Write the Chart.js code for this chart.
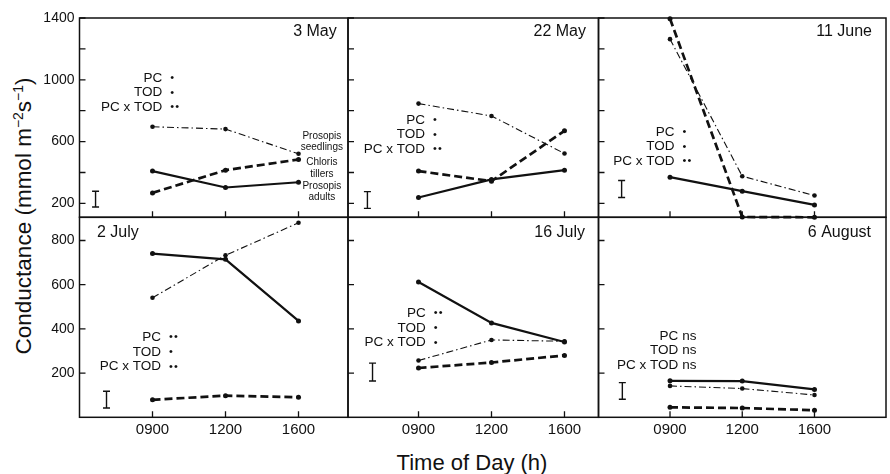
<!DOCTYPE html>
<html><head><meta charset="utf-8">
<script src="https://cdn.jsdelivr.net/npm/chart.js@4.4.1/dist/chart.umd.min.js"></script>
<style>
html,body{margin:0;padding:0;background:#fff;}
#wrap{position:relative;width:890px;height:474px;overflow:hidden;font-family:"Liberation Sans",Arial,sans-serif;color:#111;}
canvas{position:absolute;left:0;top:0;}
#ytitle{position:absolute;left:24px;top:216px;transform:translate(-50%,-50%) rotate(-90deg);white-space:nowrap;font-size:22.5px;}
#xtitle{position:absolute;left:472px;top:463px;transform:translate(-50%,-50%);font-size:22px;white-space:nowrap;}
sup{font-size:0.62em;vertical-align:0.6em;line-height:0;}
</style></head>
<body><div id="wrap">
<div id="ytitle">Conductance (mmol m<sup>−2</sup>s<sup>−1</sup>)</div>
<div id="xtitle">Time of Day (h)</div>
</div>
<script>
// ---------- data ----------
const timeLabels = ['0900', '1200', '1600'];
const panelTitles = ['3 May', '22 May', '11 June', '2 July', '16 July', '6 August'];
const seedlings = [[696, 681, 521], [846, 766, 523], [1263, 376, 251], [541, 733, 880], [257, 350, 344], [142, 130, 101]];
const chloris   = [[268, 415, 484], [409, 344, 670], [1395, 112, 110], [79, 98, 91], [223, 248, 280], [45, 42, 32]];
const adults    = [[409, 303, 337], [238, 355, 415], [370, 279, 190], [741, 715, 436], [612, 427, 341], [165, 164, 126]];
const lsdLow  = [177, 168, 238, 42, 164, 82];
const lsdHigh = [279, 276, 348, 118, 245, 157];
const statNames = ['PC', 'TOD', 'PC x TOD'];
const sigPC     = ['*', '*', '*', '**', '**', 'ns'];
const sigTOD    = ['*', '*', '*', '*', '*', 'ns'];
const sigPCxTOD = ['**', '**', '**', '**', '*', 'ns'];
const yTicksTop = [200, 400, 600, 800, 1000, 1200, 1400];
const yLabelsTop = ['200', '', '600', '', '1000', '', '1400'];
const yTicksBottom = [200, 400, 600, 800];
const yLabelsBottom = ['200', '400', '600', '800'];
const speciesLabels = [['Prosopis', 'seedlings'], ['Chloris', 'tillers'], ['Prosopis', 'adults']];

// ---------- layout (positions / styles) ----------
const FONT = '"Liberation Sans", Arial, sans-serif';
Chart.defaults.font.family = FONT;
Chart.defaults.color = '#111';
const cols = [
  {l: 79.5, r: 348, min: -1.0, max: 2.678},
  {l: 348, r: 598.5, min: -0.966, max: 2.466},
  {l: 598.5, r: 888, min: -0.99, max: 2.99}
];
const rows = [
  {t: 18, b: 217.3, min: 110, max: 1400, ticks: yTicksTop, labels: yLabelsTop},
  {t: 217.3, b: 417.3, min: 0, max: 905, ticks: yTicksBottom, labels: yLabelsBottom}
];
const lsdX = [-0.78, -0.70, -0.67, -0.63, -0.63, -0.66];
const statAnchor = [{x: 0.134, y: 1013}, {x: 0.089, y: 741}, {x: 0.062, y: 663}, {x: 0.116, y: 362}, {x: 0.099, y: 471}, {x: 0.113, y: 368}];
const titlePos = [{a: 'right', dx: -11.3, dy: 14}, {a: 'right', dx: -12.5, dy: 14}, {a: 'right', dx: -14, dy: 14},
                  {a: 'left', dx: 17.5, dy: 15}, {a: 'right', dx: -13.5, dy: 15.5}, {a: 'right', dx: -15, dy: 15.5}];
const speciesAnchor = {x: 2.32, ys: [635, 465, 313]};

const decor = {
  id: 'decor',
  afterDraw(chart, args, o) {
    const ctx = chart.ctx, a = chart.chartArea, xs = chart.scales.x, ys = chart.scales.y;
    const p = o.panel, row = rows[Math.floor(p / 3)];
    ctx.save();
    ctx.strokeStyle = '#111'; ctx.fillStyle = '#111';
    // frame
    ctx.lineWidth = 1.5;
    ctx.strokeRect(a.left, a.top, a.right - a.left, a.bottom - a.top);
    // inward ticks
    ctx.lineWidth = 1.3;
    ctx.beginPath();
    row.ticks.forEach(v => { const y = ys.getPixelForValue(v); ctx.moveTo(a.left, y); ctx.lineTo(a.left + 6, y); });
    timeLabels.forEach((_, j) => { const x = xs.getPixelForValue(j); ctx.moveTo(x, a.bottom); ctx.lineTo(x, a.bottom - 6); });
    ctx.stroke();
    // LSD bar
    const bx = xs.getPixelForValue(lsdX[p]);
    const y1 = ys.getPixelForValue(lsdLow[p]), y2 = ys.getPixelForValue(lsdHigh[p]);
    ctx.lineWidth = 1.4;
    ctx.beginPath();
    ctx.moveTo(bx, y1); ctx.lineTo(bx, y2);
    ctx.moveTo(bx - 3.5, y1); ctx.lineTo(bx + 3.5, y1);
    ctx.moveTo(bx - 3.5, y2); ctx.lineTo(bx + 3.5, y2);
    ctx.stroke();
    // stats
    const sx = xs.getPixelForValue(statAnchor[p].x), sy = ys.getPixelForValue(statAnchor[p].y);
    const sigs = [sigPC[p], sigTOD[p], sigPCxTOD[p]];
    ctx.font = '13.5px ' + FONT;
    ctx.textBaseline = 'middle';
    statNames.forEach((n, k) => {
      const y = sy + k * 14.7;
      ctx.textAlign = 'right';
      ctx.fillText(n, sx, y);
      const s = sigs[k];
      if (s === 'ns') { ctx.textAlign = 'left'; ctx.fillText('ns', sx + 4, y); }
      else {
        ctx.textAlign = 'center';
        ctx.font = '11px ' + FONT;
        for (let d = 0; d < s.length; d++) ctx.fillText('•', sx + 10 + d * 5, y);
        ctx.font = '13.5px ' + FONT;
      }
    });
    // panel title
    const tp = titlePos[p];
    ctx.font = '16px ' + FONT;
    ctx.textAlign = tp.a;
    ctx.fillText(panelTitles[p], (tp.a === 'right' ? a.right : a.left) + tp.dx, a.top + tp.dy);
    // species labels
    if (p === 0) {
      ctx.font = '10px ' + FONT; ctx.textAlign = 'center';
      const cx = xs.getPixelForValue(speciesAnchor.x);
      speciesLabels.forEach((ls, k) => {
        const y0 = ys.getPixelForValue(speciesAnchor.ys[k]);
        ls.forEach((t, m) => ctx.fillText(t, cx, y0 + m * 11.5));
      });
    }
    ctx.restore();
  }
};

function pts(arr) { return arr.map((v, j) => ({x: j, y: v})); }

const wrap = document.getElementById('wrap');
for (let p = 0; p < 6; p++) {
  const col = cols[p % 3], row = rows[Math.floor(p / 3)];
  const isLeft = p % 3 === 0, isBottom = p >= 3;
  const cv = document.createElement('canvas');
  cv.width = 890; cv.height = 474;
  wrap.appendChild(cv);
  new Chart(cv, {
    type: 'line',
    data: {
      datasets: [
        {data: pts(seedlings[p]), borderColor: '#111', backgroundColor: '#111', borderWidth: 1.1, borderDash: [7, 3, 1.5, 3], pointRadius: 2.3, pointBackgroundColor: '#111', pointBorderWidth: 0, clip: false},
        {data: pts(chloris[p]), borderColor: '#111', backgroundColor: '#111', borderWidth: 2.7, borderDash: [8, 4], pointRadius: 2.5, pointBackgroundColor: '#111', pointBorderWidth: 0, clip: false},
        {data: pts(adults[p]), borderColor: '#111', backgroundColor: '#111', borderWidth: 2.2, pointRadius: 2.5, pointBackgroundColor: '#111', pointBorderWidth: 0, clip: false}
      ]
    },
    options: {
      responsive: false, animation: false, devicePixelRatio: 1,
      layout: {padding: {left: 0, top: row.t, right: 890 - col.r, bottom: 0}},
      plugins: {legend: {display: false}, tooltip: {enabled: false}, decor: {panel: p}},
      scales: {
        x: {
          type: 'linear', min: col.min, max: col.max,
          grid: {display: false}, border: {display: false},
          afterBuildTicks: s => { s.ticks = timeLabels.map((_, j) => ({value: j})); },
          ticks: {display: isBottom, callback: v => timeLabels[v], font: {size: 15}, padding: -4, maxRotation: 0, autoSkip: false},
          afterFit: s => { s.height = 474 - row.b; }
        },
        y: {
          type: 'linear', min: row.min, max: row.max,
          grid: {display: false}, border: {display: false},
          afterBuildTicks: s => { s.ticks = row.ticks.map(v => ({value: v})); },
          ticks: {display: isLeft, callback: (v, i) => row.labels[i], font: {size: 14}, padding: -3, autoSkip: false},
          afterFit: s => { s.width = col.l; }
        }
      }
    },
    plugins: [decor]
  });
}
</script>
</body></html>
